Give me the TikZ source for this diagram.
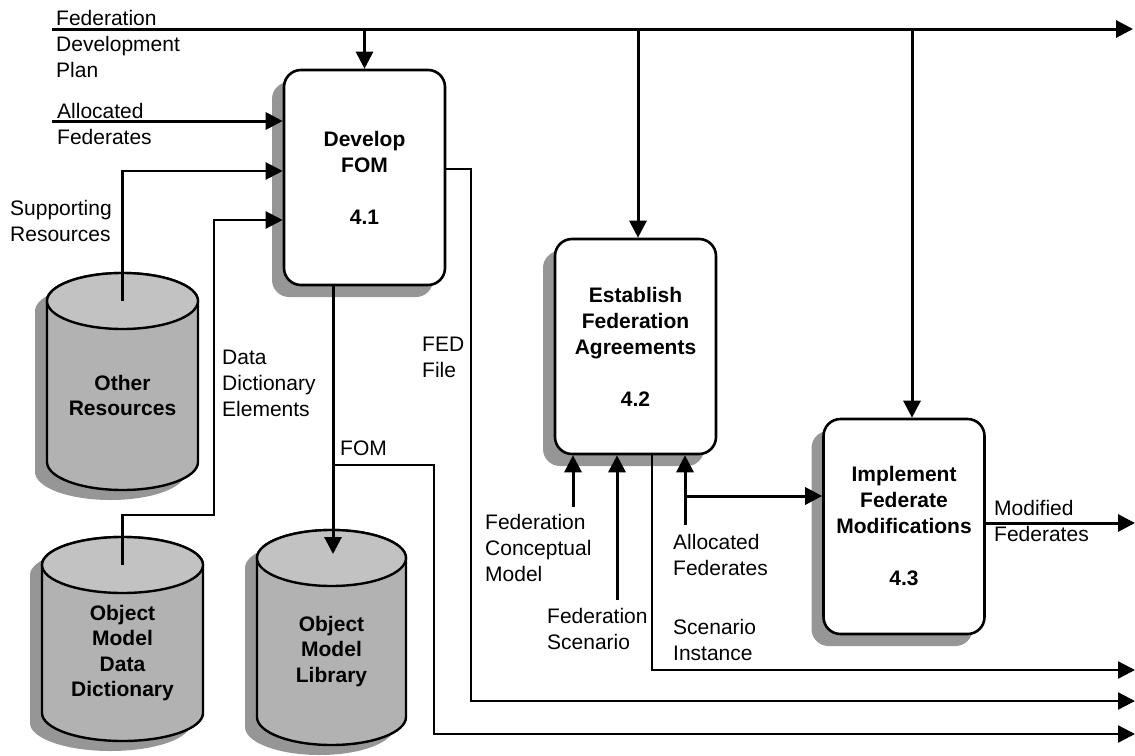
\documentclass[tikz,border=0pt]{standalone}
\usepackage{fontspec}
\setmainfont{Liberation Sans}
\usetikzlibrary{arrows.meta,shadows,calc}
\definecolor{shgray}{gray}{0.59}
\definecolor{bodygray}{gray}{0.70}
\definecolor{topgray}{gray}{0.76}

% Data store drawn as a cylinder.
% #1 centre x, #2 y of the top ellipse centre, #3 distance between ellipse centres,
% #4 horizontal radius, #5 name, #6 text
\newcommand\datastore[6]{%
  \begin{scope}[shift={(#1,#2)}]
    \fill[shgray,shift={(-12,10)}] (-#4,0) -- (-#4,#3)
      arc[start angle=180,end angle=0,x radius=#4,y radius=28] -- (#4,0)
      arc[start angle=0,end angle=-180,x radius=#4,y radius=28] -- cycle;
    \filldraw[fill=bodygray,line width=2.4pt] (-#4,0) -- (-#4,#3)
      arc[start angle=180,end angle=0,x radius=#4,y radius=28] -- (#4,0)
      arc[start angle=0,end angle=-180,x radius=#4,y radius=28] -- cycle;
    \filldraw[fill=topgray,line width=2.4pt] (0,0) ellipse[x radius=#4,y radius=28];
    \coordinate (#5top) at (0,0);
    \node[storetext] (#5) at (0,{(#3+28)/2}) {#6};
  \end{scope}}

\begin{document}
\begin{tikzpicture}[x=1pt,y=-1pt,
  flow/.style={line width=3pt},
  thinflow/.style={line width=2.3pt},
  tip/.style={-{Triangle[length=17pt,width=17pt]}},
  process/.style={draw,line width=2.6pt,fill=white,rounded corners=17pt,
    minimum width=161pt,minimum height=215pt,align=center,
    font=\bfseries\fontsize{21}{26}\selectfont,
    drop shadow={shadow xshift=-12pt,shadow yshift=-12pt,fill=shgray,opacity=1}},
  lbl/.style={anchor=north west,inner sep=0pt,align=left,
    font=\fontsize{21}{26}\selectfont},
  storetext/.style={align=center,inner sep=0pt,
    font=\bfseries\fontsize{21}{25.5}\selectfont}]
\useasboundingbox (0,0) rectangle (1135,755);

% data stores
\datastore{122.5}{301}{161}{75.5}{or}{Other\\Resources}
\datastore{122.5}{565}{148}{80.5}{odd}{Object\\Model\\Data\\Dictionary}
\datastore{331.5}{558}{159}{74.5}{oml}{Object\\Model\\Library}

% processes
\node[process] (dev) at (364.5,177.5) {Develop\\FOM\\[26pt]4.1};
\node[process] (est) at (635.5,346.5) {Establish\\Federation\\Agreements\\[26pt]4.2};
\node[process] (imp) at (904,526.5) {Implement\\Federate\\Modifications\\[26pt]4.3};

% federation development plan
\coordinate (fdpin) at (52,29);
\coordinate (fdpout) at (1133,29);
\coordinate (estin) at ([xshift=2.5pt]est.north);
\coordinate (impin) at ([xshift=8pt]imp.north);
\draw[flow,tip] (fdpin) -- (fdpout);
\draw[flow,tip] (dev.north |- fdpin) -- (dev.north);
\draw[flow,tip] (estin |- fdpin) -- (estin);
\draw[flow,tip] (impin |- fdpin) -- (impin);

% inputs of 4.1
\coordinate (afin) at (52,121);
\draw[flow,tip] (afin) -- (afin -| dev.west);
\draw[thinflow,tip] (ortop) |- ([yshift=6.5pt]dev.west);
\coordinate (ddbend) at (214,515);
\draw[thinflow,tip] (oddtop) |- (ddbend) |- ([yshift=-42.5pt]dev.west);

% outputs of 4.1
\coordinate (fomout) at ([xshift=-31.5pt]dev.south);
\draw[flow,tip] (fomout) -- ([yshift=4pt]fomout |- omltop);
\coordinate (fomsplit) at (fomout |- 0,465);
\coordinate (fomend) at (1135,734);
\draw[thinflow,tip] (fomsplit) -| (434,734) -- (fomend);
\coordinate (fedend) at (1135,701);
\draw[thinflow,tip] ([yshift=8.5pt]dev.east) -| (471,701) -- (fedend);

% inputs and outputs of 4.2
\coordinate (fcmin) at (573,507);
\draw[flow,tip] (fcmin) -- (fcmin |- est.south);
\coordinate (fsin) at (617,600);
\draw[flow,tip] (fsin) -- (fsin |- est.south);
\coordinate (siend) at (1135,670);
\draw[thinflow,tip] ([xshift=16.5pt]est.south) |- (siend);
\coordinate (af2in) at (685,525);
\draw[flow,tip] (af2in) -- (af2in |- est.south);
\coordinate (afsplit) at (685,496);
\draw[flow,tip] (afsplit) -- (afsplit -| imp.west);

% output of 4.3
\coordinate (mfend) at (1135,523);
\draw[flow,tip] ([yshift=3.5pt]imp.east) -- (mfend);

% flow labels
\node[lbl] (lfdp) at (56,10) {Federation\\Development\\Plan};
\node[lbl] (laf) at (57,103) {Allocated\\Federates};
\node[lbl] (lsr) at (10,200) {Supporting\\Resources};
\node[lbl] (ldde) at (222,350) {Data\\Dictionary\\Elements};
\node[lbl] (lfed) at (422,337) {FED\\File};
\node[lbl] (lfom) at (340,441) {FOM};
\node[lbl] (lfcm) at (485,514) {Federation\\Conceptual\\Model};
\node[lbl] (lfs) at (547,608) {Federation\\Scenario};
\node[lbl] (laf2) at (673,534) {Allocated\\Federates};
\node[lbl] (lsi) at (673,619) {Scenario\\Instance};
\node[lbl] (lmf) at (994,500) {Modified\\Federates};
\end{tikzpicture}
\end{document}
